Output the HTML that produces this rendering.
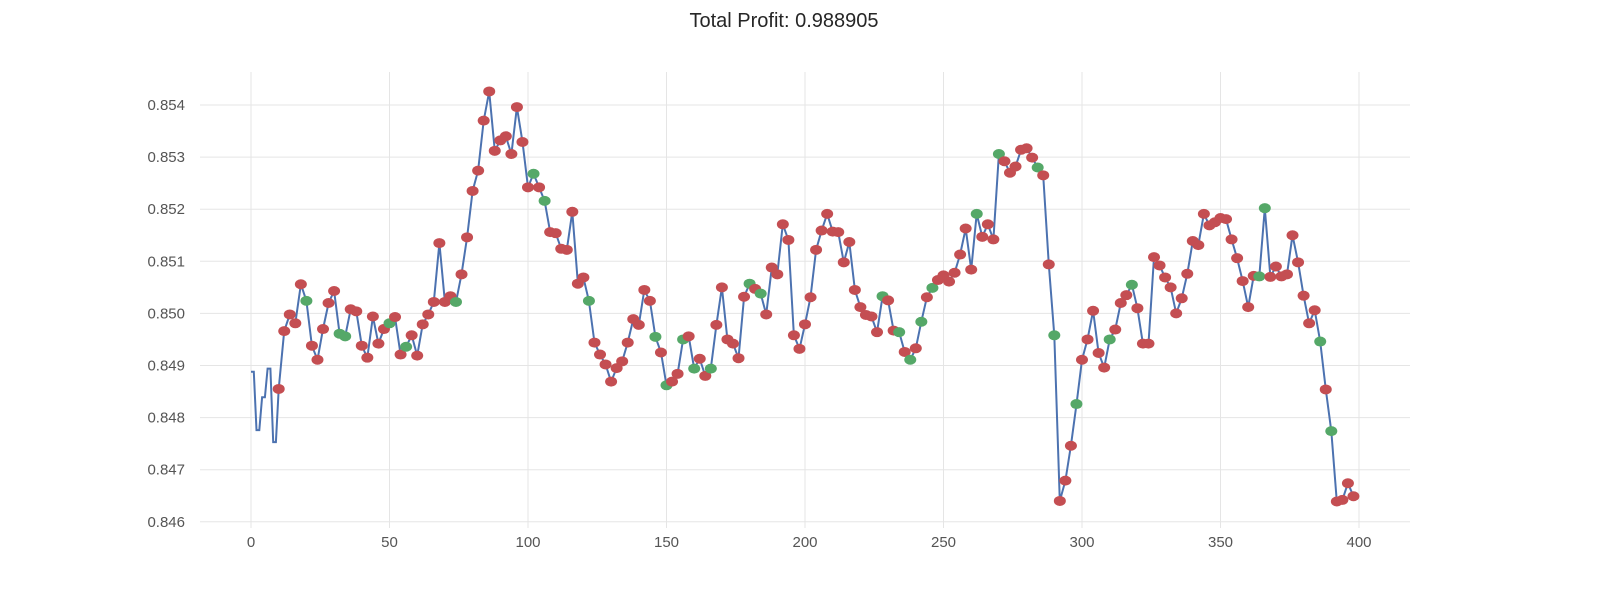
<!DOCTYPE html>
<html><head><meta charset="utf-8"><style>
body{margin:0;background:#fff;font-family:"Liberation Sans",sans-serif}
svg text{font-family:"Liberation Sans",sans-serif}
</style></head><body>
<svg id="chart" width="1600" height="600" xmlns="http://www.w3.org/2000/svg">
<text x="784" y="27" text-anchor="middle" font-size="20" fill="#262626">Total Profit: 0.988905</text>
<g id="grid"></g><g id="ticks"></g><g id="series"></g>
</svg>
<script>
const yTicks=[0.846,0.847,0.848,0.849,0.850,0.851,0.852,0.853,0.854];
const xTicks=[0,50,100,150,200,250,300,350,400];
const startX=[0,1,2,3,4,5,6,7,8,9];
const startY=[0.84888,0.84888,0.84776,0.84776,0.84839,0.84839,0.84894,0.84894,0.84753,0.84753];
const markY=[0.84855,0.84966,0.84998,0.84981,0.85056,0.85024,0.84938,0.84911,0.84970,0.85020,
0.85043,0.84961,0.84956,0.85008,0.85004,0.84938,0.84915,0.84994,0.84942,0.84970,
0.84981,0.84993,0.84921,0.84936,0.84958,0.84919,0.84979,0.84998,0.85022,0.85135,
0.85022,0.85033,0.85022,0.85075,0.85146,0.85235,0.85274,0.8537,0.85426,0.85312,
0.85332,0.8534,0.85306,0.85396,0.85329,0.85242,0.85268,0.85242,0.85216,0.85156,
0.85154,0.85124,0.85122,0.85195,0.85057,0.85069,0.85024,0.84944,0.84921,0.84902,
0.84869,0.84895,0.84908,0.84944,0.84989,0.84978,0.85045,0.85024,0.84955,0.84925,
0.84862,0.84869,0.84884,0.8495,0.84956,0.84894,0.84913,0.8488,0.84894,0.84978,
0.8505,0.8495,0.84942,0.84914,0.85032,0.85057,0.85047,0.85038,0.84998,0.85088,
0.85075,0.85171,0.85141,0.84958,0.84932,0.84979,0.85031,0.85122,0.85159,0.85191,
0.85157,0.85156,0.85098,0.85137,0.85045,0.85012,0.84997,0.84994,0.84964,0.85033,
0.85025,0.84967,0.84964,0.84926,0.84911,0.84933,0.84984,0.85031,0.85049,0.85064,
0.85073,0.85061,0.85078,0.85113,0.85163,0.85084,0.85191,0.85147,0.85171,0.85142,
0.85306,0.85292,0.8527,0.85282,0.85314,0.85317,0.85299,0.8528,0.85265,0.85094,
0.84958,0.8464,0.84679,0.84746,0.84826,0.84911,0.8495,0.85005,0.84924,0.84896,
0.8495,0.84969,0.8502,0.85035,0.85055,0.8501,0.84942,0.84942,0.85108,0.85092,
0.85069,0.8505,0.85,0.85029,0.85076,0.85139,0.85131,0.85191,0.85169,0.85175,
0.85183,0.85181,0.85142,0.85106,0.85062,0.85012,0.85072,0.85071,0.85202,0.8507,
0.8509,0.85071,0.85075,0.8515,0.85098,0.85034,0.84981,0.85006,0.84946,0.84854,
0.84774,0.84639,0.84642,0.84674,0.84649];
const greenIdx=[5,11,12,20,23,32,46,48,56,68,70,73,75,78,85,87,109,112,114,116,118,126,130,137,140,144,150,154,177,178,188,190];
const markX=markY.map((_,i)=>10+2*i);

const sx=x=>251+x*2.77;
const sy=y=>105+(0.854-y)/0.001*52.1;
const NS='http://www.w3.org/2000/svg';
function mk(tag,attrs,parent){const e=document.createElementNS(NS,tag);for(const k in attrs)e.setAttribute(k,attrs[k]);parent.appendChild(e);return e;}
const grid=document.getElementById('grid'),ticks=document.getElementById('ticks'),ser=document.getElementById('series');
yTicks.forEach(t=>{
 const l=mk('line',{x1:200,x2:1410,y1:sy(t),y2:sy(t),stroke:'#e5e5e5','stroke-width':1},grid);
 
 
 const tx=mk('text',{x:185,y:sy(t)+5,'text-anchor':'end','font-size':15,fill:'#555'},ticks);
 tx.textContent=t.toFixed(3);
 
 
});
xTicks.forEach(t=>{
 const l=mk('line',{x1:sx(t),x2:sx(t),y1:72,y2:528,stroke:'#e5e5e5','stroke-width':1},grid);
 
 
 const tx=mk('text',{x:sx(t),y:547,'text-anchor':'middle','font-size':15,fill:'#555'},ticks);
 tx.textContent=t;
 
 
});
const pts=startX.map((x,i)=>[x,startY[i]]).concat(markX.map((x,i)=>[x,markY[i]]));
const path=mk('polyline',{points:pts.map(p=>sx(p[0]).toFixed(1)+','+sy(p[1]).toFixed(1)).join(' '),fill:'none',stroke:'#4c72b0','stroke-width':2},ser);


markY.forEach((y,i)=>{
 const g=greenIdx.includes(i);
 const c=mk('ellipse',{cx:sx(markX[i]),cy:sy(y),rx:6,ry:5,fill:g?'#55a868':'#c44e52'},ser);
 
 
});
</script>
</body></html>
